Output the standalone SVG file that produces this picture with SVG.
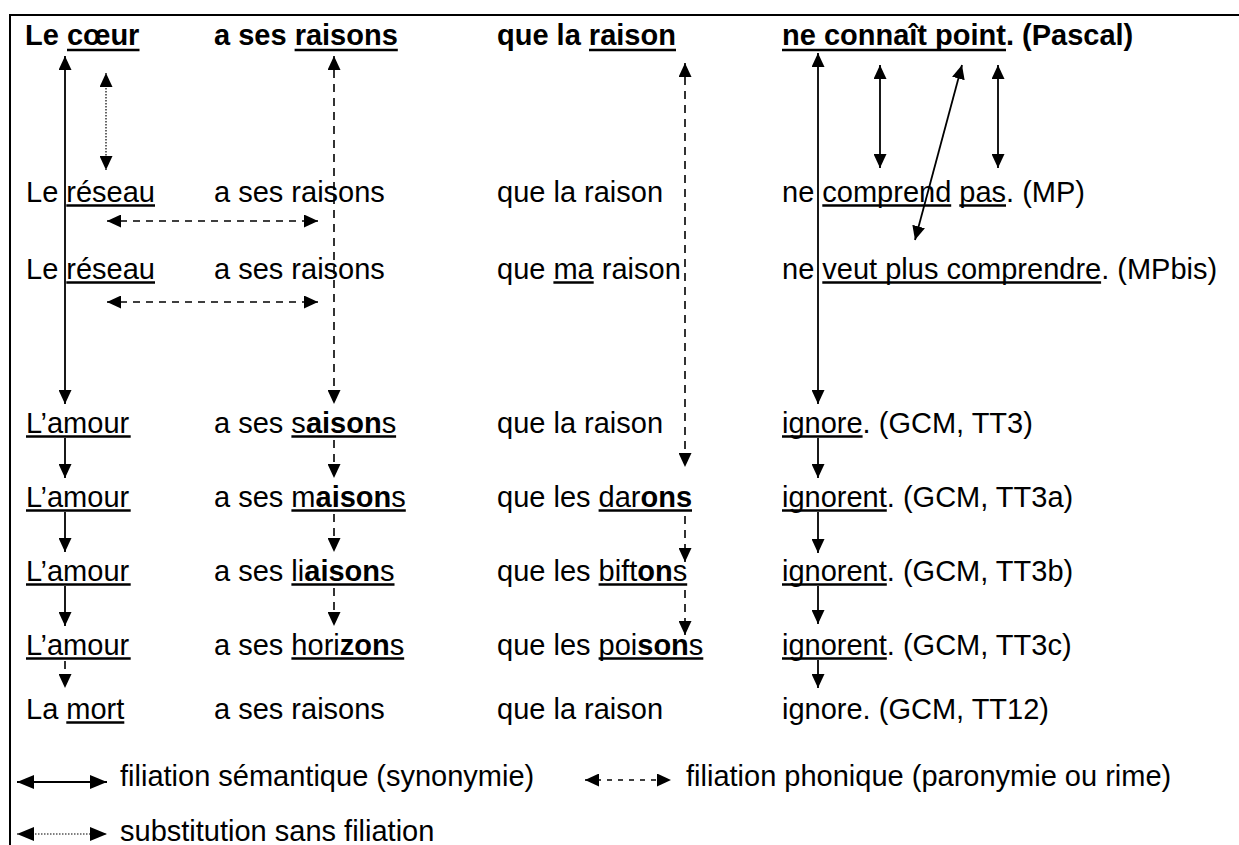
<svg xmlns="http://www.w3.org/2000/svg" width="1239" height="845" viewBox="0 0 1239 845">
<style>
text{font-family:"Liberation Sans",Arial,Helvetica,sans-serif;font-size:29px;fill:#000}
.b{font-weight:bold}
.ul{stroke:#000;stroke-width:2.4}
.s{stroke:#000;stroke-width:1.8;fill:none}
.d{stroke:#000;stroke-width:1.6;fill:none;stroke-dasharray:8 6}
.dh{stroke:#000;stroke-width:1.6;fill:none;stroke-dasharray:7 6}
.dl{stroke:#000;stroke-width:1.6;fill:none;stroke-dasharray:5 6}
.o{stroke:#000;stroke-width:1.2;fill:none;stroke-dasharray:1.5 1.5}
.frame{stroke:#000;stroke-width:2;fill:none}
</style>
<defs>
<marker id="ah" markerWidth="14" markerHeight="13" refX="14" refY="6.5" orient="auto-start-reverse" markerUnits="userSpaceOnUse"><path d="M0,0 L14,6.5 L0,13 Z" fill="#000"/></marker>
<marker id="ahL" markerWidth="17" markerHeight="14" refX="17" refY="7" orient="auto-start-reverse" markerUnits="userSpaceOnUse"><path d="M0,0 L17,7 L0,14 Z" fill="#000"/></marker>
</defs>
<rect width="1239" height="845" fill="#fff"/>
<g id="frame"><path class="frame" d="M10,845 V15 H1239"/></g>

<g id="row1-pascal">
<text class="b" x="25" y="45">Le cœur</text>
<text class="b" x="214" y="45">a ses raisons</text>
<text class="b" x="497" y="45">que la raison</text>
<text class="b" x="782" y="45">ne connaît point. (Pascal)</text>
<line class="ul" x1="67" y1="50" x2="139.5" y2="50"/>
<line class="ul" x1="294.6" y1="50" x2="397.8" y2="50"/>
<line class="ul" x1="589" y1="50" x2="676" y2="50"/>
<line class="ul" x1="782" y1="50" x2="1006" y2="50"/>
</g>

<g id="row2-mp">
<text x="26" y="202">Le réseau</text>
<text x="214" y="202">a ses raisons</text>
<text x="497" y="202">que la raison</text>
<text x="782" y="202">ne comprend pas. (MP)</text>
<line class="ul" x1="66.3" y1="205.5" x2="155" y2="205.5"/>
<line class="ul" x1="822.3" y1="205.5" x2="951.2" y2="205.5"/>
<line class="ul" x1="959.3" y1="205.5" x2="1006" y2="205.5"/>
</g>

<g id="row3-mpbis">
<text x="26" y="279">Le réseau</text>
<text x="214" y="279">a ses raisons</text>
<text x="497" y="279">que ma raison</text>
<text x="782" y="279">ne veut plus comprendre. (MPbis)</text>
<line class="ul" x1="66.3" y1="282.5" x2="155" y2="282.5"/>
<line class="ul" x1="553.4" y1="282.5" x2="593.7" y2="282.5"/>
<line class="ul" x1="822.3" y1="282.5" x2="1101.1" y2="282.5"/>
</g>

<g id="row4-tt3">
<text x="26" y="433">L’amour</text>
<text x="214" y="433">a ses s<tspan class="b">aison</tspan>s</text>
<text x="497" y="433">que la raison</text>
<text x="782" y="433">ignore. (GCM, TT3)</text>
<line class="ul" x1="26" y1="436.5" x2="130.7" y2="436.5"/>
<line class="ul" x1="291.4" y1="436.5" x2="396.1" y2="436.5"/>
<line class="ul" x1="782" y1="436.5" x2="862.6" y2="436.5"/>
</g>

<g id="row5-tt3a">
<text x="26" y="507">L’amour</text>
<text x="214" y="507">a ses m<tspan class="b">aison</tspan>s</text>
<text x="497" y="507">que les dar<tspan class="b">ons</tspan></text>
<text x="782" y="507">ignorent. (GCM, TT3a)</text>
<line class="ul" x1="26" y1="510.5" x2="130.7" y2="510.5"/>
<line class="ul" x1="291.4" y1="510.5" x2="405.8" y2="510.5"/>
<line class="ul" x1="598.6" y1="510.5" x2="692" y2="510.5"/>
<line class="ul" x1="782" y1="510.5" x2="886.8" y2="510.5"/>
</g>

<g id="row6-tt3b">
<text x="26" y="581">L’amour</text>
<text x="214" y="581">a ses li<tspan class="b">aison</tspan>s</text>
<text x="497" y="581">que les bift<tspan class="b">on</tspan>s</text>
<text x="782" y="581">ignorent. (GCM, TT3b)</text>
<line class="ul" x1="26" y1="584.5" x2="130.7" y2="584.5"/>
<line class="ul" x1="291.4" y1="584.5" x2="394.5" y2="584.5"/>
<line class="ul" x1="598.6" y1="584.5" x2="687.2" y2="584.5"/>
<line class="ul" x1="782" y1="584.5" x2="886.8" y2="584.5"/>
</g>

<g id="row7-tt3c">
<text x="26" y="655">L’amour</text>
<text x="214" y="655">a ses hori<tspan class="b">zon</tspan>s</text>
<text x="497" y="655">que les poi<tspan class="b">son</tspan>s</text>
<text x="782" y="655">ignorent. (GCM, TT3c)</text>
<line class="ul" x1="26" y1="658.5" x2="130.7" y2="658.5"/>
<line class="ul" x1="291.4" y1="658.5" x2="404.2" y2="658.5"/>
<line class="ul" x1="598.6" y1="658.5" x2="703.3" y2="658.5"/>
<line class="ul" x1="782" y1="658.5" x2="886.8" y2="658.5"/>
</g>

<g id="row8-tt12">
<text x="26" y="719">La mort</text>
<text x="214" y="719">a ses raisons</text>
<text x="497" y="719">que la raison</text>
<text x="782" y="719">ignore. (GCM, TT12)</text>
<line class="ul" x1="66.3" y1="722.5" x2="124.3" y2="722.5"/>
</g>

<g id="connectors">
<line class="s" x1="65" y1="56" x2="65" y2="404" marker-start="url(#ah)" marker-end="url(#ah)"/>
<line class="o" x1="106" y1="73" x2="106" y2="170" marker-start="url(#ah)" marker-end="url(#ah)"/>
<line class="d" x1="334" y1="56" x2="334" y2="404" marker-start="url(#ah)" marker-end="url(#ah)"/>
<line class="d" x1="685" y1="63" x2="685" y2="467" marker-start="url(#ah)" marker-end="url(#ah)"/>
<line class="s" x1="818" y1="53" x2="818" y2="404" marker-start="url(#ah)" marker-end="url(#ah)"/>
<line class="s" x1="880" y1="65" x2="880" y2="168" marker-start="url(#ah)" marker-end="url(#ah)"/>
<line class="s" x1="998" y1="65" x2="998" y2="168" marker-start="url(#ah)" marker-end="url(#ah)"/>
<line class="s" x1="962" y1="65" x2="915" y2="240" marker-start="url(#ah)" marker-end="url(#ah)"/>
<line class="dh" x1="107" y1="221" x2="318" y2="221" marker-start="url(#ah)" marker-end="url(#ah)"/>
<line class="dh" x1="107" y1="302" x2="318" y2="302" marker-start="url(#ah)" marker-end="url(#ah)"/>
<line class="s" x1="65" y1="438" x2="65" y2="478" marker-end="url(#ah)"/>
<line class="s" x1="65" y1="512" x2="65" y2="552" marker-end="url(#ah)"/>
<line class="s" x1="65" y1="586" x2="65" y2="626" marker-end="url(#ah)"/>
<line class="d" x1="65" y1="661" x2="65" y2="688" marker-end="url(#ah)"/>
<line class="d" x1="334" y1="440" x2="334" y2="478" marker-start="none" marker-end="url(#ah)"/>
<line class="d" x1="334" y1="514" x2="334" y2="552" marker-end="url(#ah)"/>
<line class="d" x1="334" y1="588" x2="334" y2="626" marker-end="url(#ah)"/>
<line class="d" x1="685" y1="516" x2="685" y2="562" marker-end="url(#ah)"/>
<line class="d" x1="685" y1="590" x2="685" y2="635" marker-end="url(#ah)"/>
<line class="s" x1="818" y1="438" x2="818" y2="478" marker-end="url(#ah)"/>
<line class="s" x1="818" y1="512" x2="818" y2="553" marker-end="url(#ah)"/>
<line class="s" x1="818" y1="586" x2="818" y2="624" marker-end="url(#ah)"/>
<line class="s" x1="818" y1="660" x2="818" y2="688" marker-end="url(#ah)"/>
</g>

<g id="legend">
<line class="s" x1="17" y1="782" x2="107" y2="782" marker-start="url(#ahL)" marker-end="url(#ahL)"/>
<text x="120" y="786">filiation sémantique (synonymie)</text>
<line class="dl" x1="585" y1="780" x2="671" y2="780" marker-start="url(#ah)" marker-end="url(#ah)"/>
<text x="686" y="786">filiation phonique (paronymie ou rime)</text>
<line class="o" x1="17" y1="834" x2="107" y2="834" marker-start="url(#ahL)" marker-end="url(#ahL)"/>
<text x="120" y="841">substitution sans filiation</text>
</g>
</svg>
